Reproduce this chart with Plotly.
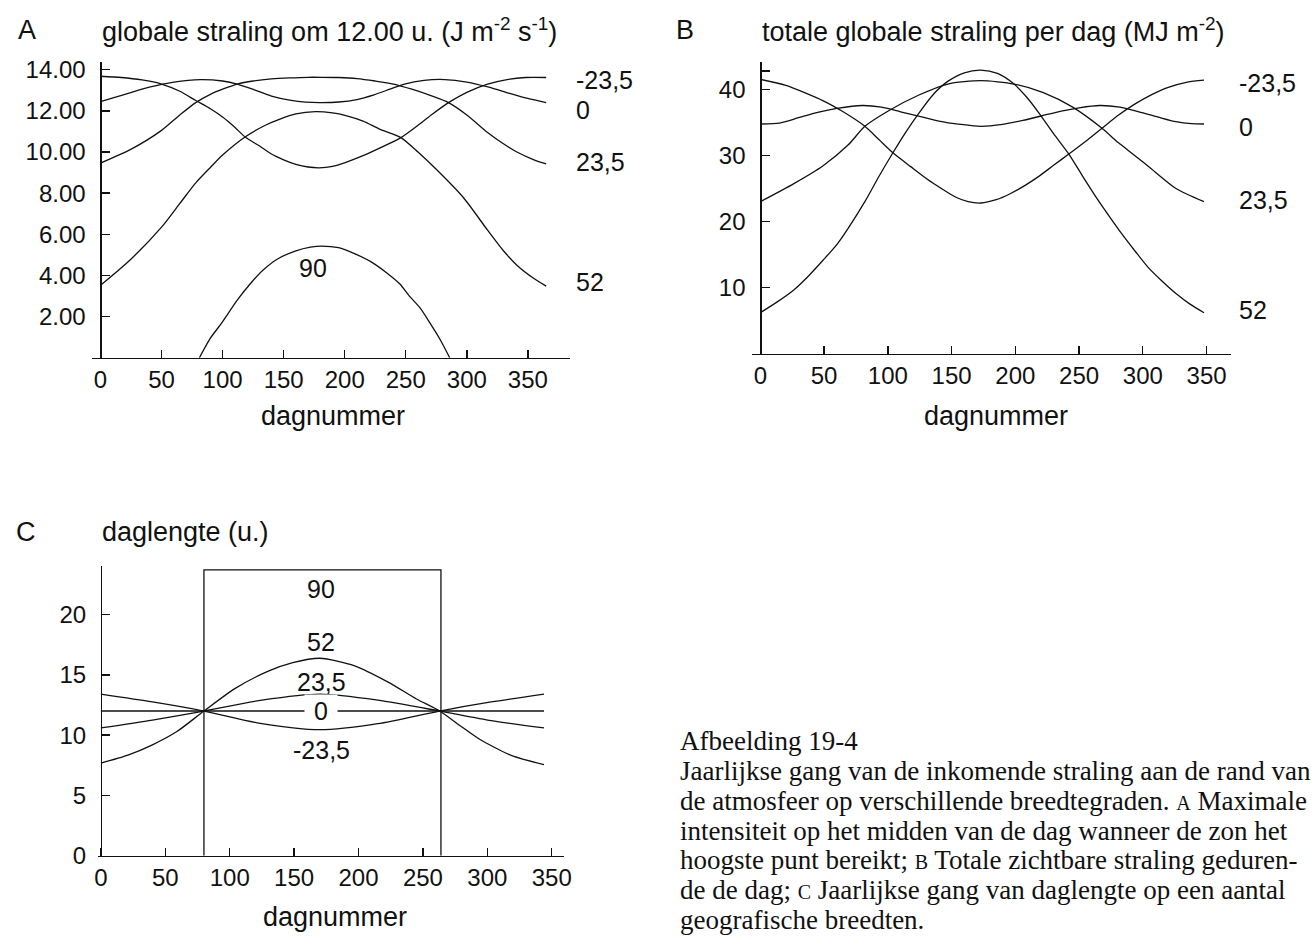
import plotly.graph_objects as go

# ---------------- DATA ----------------
# Panel A: global radiation at 12.00 h (J m-2 s-1) vs day number
a_days_m235 = [0, 17, 34, 50, 65, 78, 90, 100, 110, 119, 130, 140, 150, 160, 170, 179, 190, 201, 215, 229, 246, 260, 272, 285, 300, 317, 333, 348, 365]
a_vals_m235 = [13.68, 13.62, 13.5, 13.3, 12.95, 12.5, 12.1, 11.7, 11.2, 10.7, 10.3, 9.9, 9.62, 9.4, 9.27, 9.23, 9.3, 9.5, 9.82, 10.2, 10.7, 11.3, 11.85, 12.4, 12.9, 13.3, 13.52, 13.62, 13.62]

a_days_0 = [0, 20, 40, 60, 82, 100, 112, 126, 140, 155, 168, 181, 195, 210, 224, 237, 249, 265, 282, 300, 318, 335, 350, 365]
a_vals_0 = [12.45, 12.8, 13.15, 13.4, 13.52, 13.45, 13.3, 13.02, 12.72, 12.52, 12.42, 12.4, 12.43, 12.55, 12.78, 13.05, 13.3, 13.48, 13.52, 13.4, 13.15, 12.85, 12.6, 12.4]

a_days_235 = [0, 24, 50, 65, 78, 90, 100, 112, 125, 140, 155, 170, 181, 195, 210, 225, 240, 255, 270, 285, 300, 317, 330, 341, 355, 365]
a_vals_235 = [9.46, 10.1, 11.05, 11.8, 12.4, 12.8, 13.05, 13.3, 13.45, 13.55, 13.6, 13.63, 13.63, 13.62, 13.57, 13.45, 13.3, 13.05, 12.75, 12.4, 11.8, 10.95, 10.4, 10.0, 9.62, 9.42]

a_days_52 = [0, 24, 50, 65, 78, 90, 100, 119, 135, 147, 160, 176, 190, 201, 215, 229, 246, 260, 276, 297, 317, 330, 341, 355, 365]
a_vals_52 = [3.52, 4.74, 6.35, 7.5, 8.5, 9.25, 9.85, 10.75, 11.3, 11.6, 11.85, 11.96, 11.9, 11.77, 11.5, 11.1, 10.7, 10.0, 9.1, 7.8, 6.2, 5.2, 4.5, 3.85, 3.48]

a_days_90 = [81, 90, 99, 112, 122, 133, 145, 160, 172, 181, 195, 208, 222, 235, 245, 253, 262, 270, 278, 286]
a_vals_90 = [0, 0.95, 1.67, 2.8, 3.55, 4.25, 4.8, 5.2, 5.38, 5.43, 5.35, 5.06, 4.65, 4.1, 3.6, 3.0, 2.4, 1.67, 0.9, 0]

# Panel B: total global radiation per day (MJ m-2)
b_days_m235 = [0, 20, 49, 65, 82, 93, 104, 118, 131, 142, 153, 163, 173, 185, 196, 208, 219, 230, 242, 255, 268, 281, 294, 307, 320, 335, 348]
b_vals_m235 = [41.5, 40.6, 38.3, 36.6, 34.4, 32.4, 30.4, 28.3, 26.4, 25.0, 23.7, 23.0, 22.8, 23.3, 24.2, 25.5, 26.9, 28.5, 30.2, 32.1, 34.1, 36.1, 37.8, 39.2, 40.3, 41.1, 41.4]

b_days_0 = [0, 15, 30, 45, 60, 80, 95, 110, 125, 140, 157, 173, 190, 206, 221, 236, 250, 266, 282, 297, 312, 326, 338, 348]
b_vals_0 = [34.75, 34.9, 35.7, 36.5, 37.1, 37.55, 37.3, 36.6, 35.9, 35.2, 34.7, 34.4, 34.7, 35.3, 36.0, 36.7, 37.2, 37.55, 37.3, 36.6, 35.8, 35.1, 34.8, 34.75]

b_days_235 = [0, 26, 49, 69, 82, 101, 124, 147, 173, 199, 222, 245, 268, 281, 304, 326, 348]
b_vals_235 = [23.0, 25.7, 28.4, 31.6, 34.4, 36.8, 39.1, 40.8, 41.3, 40.8, 39.5, 37.3, 34.1, 31.9, 28.4, 25.0, 23.0]

b_days_52 = [0, 13, 26, 38, 49, 60, 69, 82, 93, 104, 114, 124, 136, 147, 160, 173, 186, 199, 209, 219, 230, 242, 253, 264, 274, 284, 294, 304, 315, 326, 337, 348]
b_vals_52 = [6.2, 7.8, 9.6, 11.8, 14.1, 16.5, 19.0, 23.0, 26.8, 30.4, 33.5, 36.3, 39.3, 41.2, 42.5, 42.9, 42.4, 40.8, 38.8, 36.3, 33.3, 30.2, 26.8, 23.5, 20.7, 18.0, 15.5, 13.1, 11.0, 9.1, 7.5, 6.2]

# Panel C: day length (h)
c_days_90 = [80, 80, 264, 264]
c_vals_90 = [0, 23.7, 23.7, 0]

c_days_52 = [0, 21, 40, 59, 80, 104, 130, 149, 170, 197, 223, 245, 263, 280, 294, 319, 344]
c_vals_52 = [7.69, 8.35, 9.2, 10.3, 12.0, 13.86, 15.3, 16.0, 16.37, 15.75, 14.4, 13.0, 12.0, 10.7, 9.66, 8.3, 7.55]

c_days_235 = [0, 40, 80, 125, 170, 215, 263, 303, 344]
c_vals_235 = [10.6, 11.25, 12.0, 12.9, 13.4, 12.9, 12.0, 11.2, 10.6]

c_days_0 = [0, 344]
c_vals_0 = [12.0, 12.0]

c_days_m235 = [0, 40, 80, 125, 170, 215, 263, 303, 344]
c_vals_m235 = [13.4, 12.75, 12.0, 10.95, 10.45, 10.95, 12.0, 12.75, 13.4]

x_ticks = [0, 50, 100, 150, 200, 250, 300, 350]
a_yticks = [2, 4, 6, 8, 10, 12, 14]
b_yticks = [10, 20, 30, 40]
b_minor_ticks = [42.8]
c_yticks = [0, 5, 10, 15, 20]

# ---------------- LAYOUT HELPERS ----------------
W, H = 1314, 944
def fx(px):
    return px / W
def fy(py):
    return 1 - py / H

INK = "#111111"
SANS = "Liberation Sans, Arial, sans-serif"
SERIF = "Liberation Serif, Times New Roman, serif"
TICKSZ = 24
TITLESZ = 27

fig = go.Figure()

def add_line(x, y, xa, ya, shape="spline"):
    fig.add_trace(go.Scatter(
        x=x, y=y, mode="lines", xaxis=xa, yaxis=ya,
        line=dict(color=INK, width=1.3, shape=shape, smoothing=0.7),
        showlegend=False, hoverinfo="skip"))

# Panel A
for d, v in [(a_days_m235, a_vals_m235), (a_days_0, a_vals_0), (a_days_235, a_vals_235),
             (a_days_52, a_vals_52), (a_days_90, a_vals_90)]:
    add_line(d, v, "x", "y")
# Panel B
for d, v in [(b_days_m235, b_vals_m235), (b_days_0, b_vals_0), (b_days_235, b_vals_235),
             (b_days_52, b_vals_52)]:
    add_line(d, v, "x2", "y2")
# Panel C
add_line(c_days_90, c_vals_90, "x3", "y3", shape="linear")
for d, v in [(c_days_52, c_vals_52), (c_days_235, c_vals_235), (c_days_0, c_vals_0),
             (c_days_m235, c_vals_m235)]:
    add_line(d, v, "x3", "y3")

# axis geometry (pixels)
A = dict(x0=97.3, ppd=1.2314, xr=[-7.2, 384.2], ybot=359, ytop=57, yr=[0, 14.38])
B = dict(x0=762.7, ppd=1.2857, xr=[-6.5, 369.0], ybot=354.8, ytop=56.7, yr=[0, 44.2])
C = dict(x0=97.7, ppd=1.299, xr=[-2.0, 359.7], ybot=867.3, ytop=571.7, yr=[0, 24.0])

def xdom(P):
    return [fx(P["x0"] + P["xr"][0] * P["ppd"]), fx(P["x0"] + P["xr"][1] * P["ppd"])]

def xaxis(P, anchor, standoff):
    return dict(domain=xdom(P), range=P["xr"], anchor=anchor, showline=True,
                linecolor=INK, linewidth=1.6, ticks="inside", ticklen=8, tickwidth=1.4,
                tickcolor=INK, tickvals=x_ticks, tickfont=dict(size=TICKSZ, color=INK, family=SANS),
                showgrid=False, zeroline=False, ticklabelstandoff=standoff, fixedrange=True)

def yaxis(P, tickvals, fmt=None, standoff=10, minor=None):
    d = dict(domain=[fy(P["ybot"]), fy(P["ytop"])], range=P["yr"], anchor="free",
             position=fx(P["x0"]), showline=True, linecolor=INK, linewidth=1.6,
             ticks="inside", ticklen=8, tickwidth=1.4, tickcolor=INK, tickvals=tickvals,
             tickfont=dict(size=TICKSZ, color=INK, family=SANS), showgrid=False,
             zeroline=False, ticklabelstandoff=standoff, fixedrange=True)
    if fmt is not None:
        d["tickformat"] = fmt
    if minor is not None:
        d["minor"] = dict(tickvals=minor, ticks="inside", ticklen=8, tickwidth=1.4,
                          tickcolor=INK, showgrid=False)
    return d

fig.update_layout(
    width=W, height=H, margin=dict(l=0, r=0, t=0, b=0),
    paper_bgcolor="white", plot_bgcolor="rgba(0,0,0,0)",
    font=dict(family=SANS, color=INK),
    xaxis=xaxis(A, "y", 0),
    yaxis=yaxis(A, a_yticks, fmt=".2f", standoff=10),
    xaxis2=xaxis(B, "y2", 0),
    yaxis2=yaxis(B, b_yticks, standoff=10, minor=b_minor_ticks),
    xaxis3=xaxis(C, "y3", 0),
    yaxis3=yaxis(C, c_yticks, standoff=10),
)

ann = []
def text(x, y, s, size=TITLESZ, xanchor="left", xref="paper", yref="paper", family=SANS, **kw):
    ann.append(dict(x=x, y=y, text=s, xref=xref, yref=yref, xanchor=xanchor, yanchor="middle",
                    showarrow=False, font=dict(size=size, color=INK, family=family), **kw))

# titles
text(fx(12), fy(25), "A")
text(fx(97), fy(25), "globale straling om 12.00 u. (J m<sup>-2</sup> s<sup>-1</sup>)")
text(fx(676), fy(25), "B")
text(fx(762), fy(25), "totale globale straling per dag (MJ m<sup>-2</sup>)")
text(fx(10), fy(537), "C")
text(fx(97), fy(537), "daglengte (u.)")
# x titles
text(fx(332), fy(418), "dagnummer", xanchor="center")
text(fx(1000), fy(418), "dagnummer", xanchor="center")
text(fx(334), fy(930), "dagnummer", xanchor="center")

# right-hand latitude labels A
for lab, val in [("-23,5", 13.52), ("0", 12.05), ("23,5", 9.52), ("52", 3.67)]:
    text(fx(575), val, lab, size=25, yref="y")
text(174, 4.38, "90", size=25, xanchor="center", xref="x", yref="y")
# right-hand latitude labels B
for lab, val in [("-23,5", 41.0), ("0", 34.3), ("23,5", 23.2), ("52", 6.64)]:
    text(fx(1243), val, lab, size=25, yref="y2")
# labels in C
for lab, val in [("90", 22.1), ("52", 17.7), ("23,5", 14.4), ("-23,5", 8.77)]:
    text(171, val, lab, size=25, xanchor="center", xref="x3", yref="y3")
text(171, 12.0, "\u00a00\u00a0", size=25, xanchor="center", xref="x3", yref="y3",
     bgcolor="white", borderpad=2)

# caption
sc = '<span style="font-size:20px">%s</span>'
cap = [
    "Afbeelding 19-4",
    "Jaarlijkse gang van de inkomende straling aan de rand van",
    "de atmosfeer op verschillende breedtegraden. " + sc % "A" + " Maximale",
    "intensiteit op het midden van de dag wanneer de zon het",
    "hoogste punt bereikt; " + sc % "B" + " Totale zichtbare straling geduren-",
    "de de dag; " + sc % "C" + " Jaarlijkse gang van daglengte op een aantal",
    "geografische breedten.",
]
for i, line in enumerate(cap):
    text(fx(680), fy(750 + 30.5 * i), line, size=27, family=SERIF)

fig.update_layout(annotations=ann)
fig.write_html(
    "out.html",
    config={"displayModeBar": False, "staticPlot": True},
    post_script="document.body.style.margin='0';document.body.style.overflow='hidden';",
)
